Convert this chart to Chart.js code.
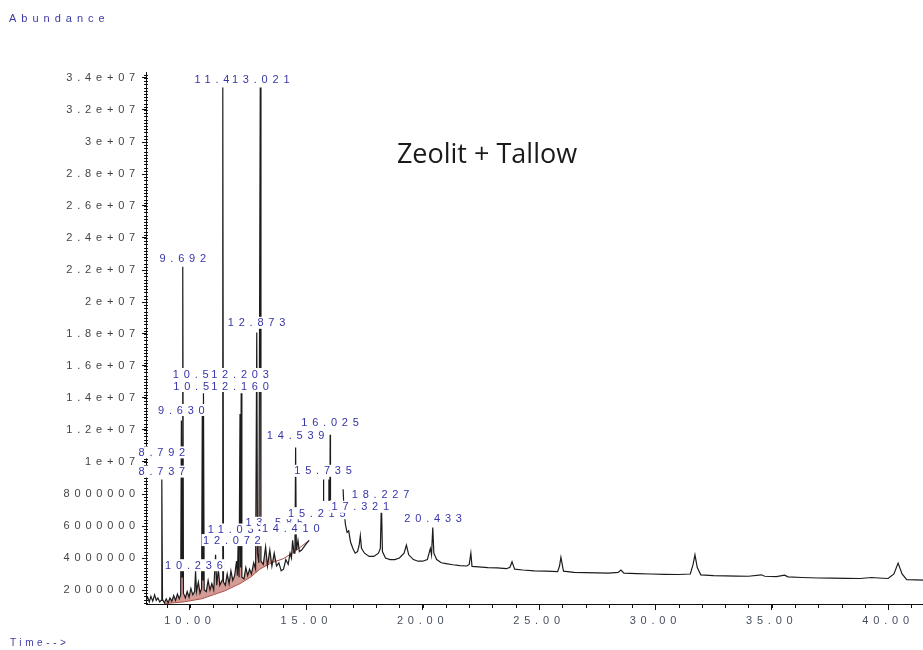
<!DOCTYPE html>
<html>
<head>
<meta charset="utf-8">
<script src="https://cdn.jsdelivr.net/npm/chart.js@4.4.1/dist/chart.umd.min.js"></script>
<style>
html,body{margin:0;padding:0;background:#fff;}
#wrap{width:923px;height:650px;position:relative;}
</style>
</head>
<body>
<div id="wrap"><canvas id="c"></canvas></div>
<script>
// ---- data (time in minutes, abundance in counts) ----
const traceTimes = [
 8.11,8.18,8.25,8.32,8.40,8.48,8.55,8.62,8.70,8.76,8.79,8.82,8.90,8.98,9.06,9.14,9.22,9.30,9.38,9.46,9.54,9.60,9.63,9.66,9.69,9.72,9.80,9.88,9.96,
 10.04,10.12,10.20,10.24,10.28,10.36,10.43,10.50,10.53,10.555,10.58,10.61,10.70,10.78,10.86,10.94,
 11.02,11.10,11.15,11.22,11.28,11.38,11.41,11.44,11.52,11.60,11.68,11.76,11.84,11.92,
 12.00,12.04,12.07,12.11,12.15,12.175,12.20,12.23,12.32,12.40,12.48,12.56,12.64,12.74,12.82,12.87,12.90,12.96,
 13.02,13.05,13.15,13.25,13.33,13.43,13.52,13.62,13.72,13.82,13.92,
 14.02,14.12,14.22,14.30,14.36,14.41,14.47,14.51,14.54,14.57,14.64,14.70,14.80,14.90,15.00,15.12,
 15.20,15.72,15.735,15.75,15.80,15.95,15.97,15.99,16.00,16.012,16.025,16.038,16.30,
 16.58,16.62,16.68,16.75,16.82,16.90,17.00,17.10,17.20,17.27,17.32,17.37,17.50,17.70,17.90,
 18.10,18.18,18.227,18.27,18.40,18.60,18.80,19.00,19.20,19.30,19.40,19.60,19.80,
 20.00,20.20,20.33,20.38,20.433,20.48,20.60,20.80,21.00,21.30,21.60,21.90,22.00,22.07,22.12,22.40,22.80,
 23.20,23.60,23.75,23.84,23.95,24.30,24.80,25.30,25.80,25.88,25.94,26.05,26.50,27.00,27.50,28.00,28.40,28.52,28.65,
 29.20,29.80,30.40,31.00,31.50,31.62,31.70,31.80,31.95,32.50,33.00,33.50,34.00,34.55,34.70,35.20,35.55,35.70,
 36.30,37.00,37.60,38.20,38.80,39.30,39.60,40.00,40.25,40.43,40.60,40.80,41.20,41.60
];
const traceValues = [
 1.35e6,1.55e6,1.25e6,1.6e6,1.3e6,1.7e6,1.35e6,1.5e6,1.25e6,1.35e6,8.9e6,1.4e6,1.2e6,1.45e6,1.2e6,1.5e6,1.3e6,1.65e6,1.35e6,1.75e6,1.45e6,1.7e6,12.6e6,2.8e6,22.2e6,1.8e6,1.5e6,1.9e6,1.55e6,
 2.1e6,1.7e6,1.9e6,3.2e6,1.9e6,2.5e6,1.8e6,2.1e6,13.4e6,2.6e6,14.3e6,2.0e6,1.9e6,2.6e6,2.0e6,2.4e6,
 2.0e6,4.2e6,2.3e6,3.3e6,2.3e6,2.6e6,33.4e6,2.5e6,2.3e6,3.0e6,2.4e6,3.2e6,2.6e6,2.9e6,
 3.8e6,2.9e6,4.9e6,2.8e6,13.0e6,3.4e6,14.3e6,2.8e6,2.7e6,3.4e6,2.9e6,3.3e6,3.0e6,3.7e6,3.3e6,18.1e6,4.3e6,3.7e6,
 33.4e6,3.8e6,3.6e6,4.7e6,3.5e6,4.5e6,3.5e6,4.3e6,3.5e6,3.7e6,3.2e6,
 3.3e6,3.9e6,3.6e6,4.3e6,4.0e6,5.1e6,4.3e6,4.5e6,10.9e6,4.5e6,5.1e6,4.4e6,4.5e6,4.7e6,4.9e6,5.1e6,
 null,7.6e6,8.9e6,7.6e6,null,7.6e6,8.9e6,7.6e6,null,7.6e6,11.7e6,7.6e6,null,
 8.3e6,7.0e6,6.1e6,5.6e6,5.7e6,5.0e6,4.6e6,4.3e6,4.4e6,4.8e6,5.4e6,4.6e6,4.3e6,4.1e6,4.1e6,
 4.3e6,4.6e6,7.5e6,4.4e6,4.0e6,3.9e6,3.9e6,4.0e6,4.3e6,4.8e6,4.2e6,3.9e6,3.8e6,
 3.8e6,3.9e6,4.6e6,4.2e6,5.9e6,4.3e6,3.9e6,3.7e6,3.65e6,3.58e6,3.52e6,3.5e6,3.6e6,4.3e6,3.48e6,3.45e6,3.4e6,
 3.38e6,3.33e6,3.42e6,3.77e6,3.3e6,3.25e6,3.2e6,3.18e6,3.15e6,3.5e6,4.05e6,3.18e6,3.1e6,3.08e6,3.07e6,3.05e6,3.1e6,3.25e6,3.05e6,
 3.02e6,3.0e6,2.98e6,2.97e6,3.0e6,3.6e6,4.2e6,3.4e6,2.95e6,2.9e6,2.88e6,2.87e6,2.86e6,2.95e6,2.86e6,2.84e6,2.93e6,2.82e6,
 2.78e6,2.75e6,2.74e6,2.73e6,2.72e6,2.78e6,2.75e6,2.72e6,3.0e6,3.68e6,3.0e6,2.65e6,2.63e6,2.62e6
];
// integration baseline (red)
const baseTimes  = [8.88, 9.70, 10.50, 11.00, 11.50, 12.15, 12.60, 13.00, 13.50, 14.00, 14.50, 15.12];
const baseValues = [1.15e6,1.25e6,1.45e6,1.7e6,1.95e6,2.4e6,2.8e6,3.3e6,3.7e6,3.95e6,4.4e6,5.1e6];

// axis ticks
const xTickValues = [10, 15, 20, 25, 30, 35, 40];
const xTickLabels = ['10.00','15.00','20.00','25.00','30.00','35.00','40.00'];
const yTickValues = [2e6,4e6,6e6,8e6,10e6,12e6,14e6,16e6,18e6,20e6,22e6,24e6,26e6,28e6,30e6,32e6,34e6];
const yTickLabels = ['2000000','4000000','6000000','8000000','1e+07','1.2e+07','1.4e+07','1.6e+07','1.8e+07','2e+07','2.2e+07','2.4e+07','2.6e+07','2.8e+07','3e+07','3.2e+07','3.4e+07'];

// peak labels: text, time, abundance level (drawing order matters: later ones overlay)
const peakLabelTexts  = ['11.413','13.021','9.692','12.873','10.531','12.160','10.508','12.203','9.630','16.025','14.539','8.737','8.792','15.735','11.034','12.072','13.585','14.410','15.215','18.227','17.321','20.433','10.236'];
const peakLabelTimes  = [11.41, 13.04, 9.69, 12.86, 10.52, 12.15, 10.50, 12.15, 9.63, 16.02, 14.54, 8.79, 8.79, 15.72, 11.98, 11.80, 13.62, 14.33, 15.45, 18.19, 17.32, 20.45, 10.17];
const peakLabelLevels = [33.9e6,33.9e6,22.75e6,18.7e6,14.75e6,14.75e6,15.5e6,15.5e6,13.25e6,12.45e6,11.65e6,9.4e6,10.6e6,9.45e6,5.78e6,5.12e6,6.2e6,5.85e6,6.8e6,7.95e6,7.2e6,6.45e6,3.55e6];

// ---- build chart ----
const trace = traceTimes.map((t,i)=>({x:t, y:traceValues[i]}));
const integ = trace.filter(p => p.y !== null && p.x >= baseTimes[0] && p.x <= baseTimes[baseTimes.length-1]);
const base = baseTimes.map((t,i)=>({x:t, y:baseValues[i]}));

const LS = '4.8px';
const AXIS_FONT = '"Liberation Sans", Arial, sans-serif';

const decor = {
  id:'decor',
  beforeDraw(chart){ chart.ctx.letterSpacing = LS; },
  afterDatasetsDraw(chart){
    const ctx = chart.ctx, xs = chart.scales.x, ys = chart.scales.y;
    const a = chart.chartArea;
    ctx.save();
    // minor ticks
    ctx.strokeStyle = '#111'; ctx.lineWidth = 1;
    ctx.beginPath();
    for (let k = 6; k <= 171; k++) {
      const py = Math.round(ys.getPixelForValue(k*2e5)) + 0.5;
      ctx.moveTo(a.left-2, py); ctx.lineTo(a.left+2, py);
    }
    for (let m = 9; m <= 41; m++) {
      const px = Math.round(xs.getPixelForValue(m)) + 0.5;
      ctx.moveTo(px, a.bottom); ctx.lineTo(px, a.bottom+4);
    }
    ctx.stroke();
    // peak labels
    ctx.font = '11px ' + AXIS_FONT;
    ctx.letterSpacing = LS;
    ctx.textBaseline = 'middle';
    ctx.textAlign = 'left';
    for (let i = 0; i < peakLabelTexts.length; i++) {
      const txt = peakLabelTexts[i];
      const px = xs.getPixelForValue(peakLabelTimes[i]);
      const py = ys.getPixelForValue(peakLabelLevels[i]);
      const w = ctx.measureText(txt).width - 4.8;
      ctx.fillStyle = '#fff';
      ctx.fillRect(px - w/2 - 1.5, py - 6, w + 3, 12);
      ctx.fillStyle = '#3535a8';
      ctx.fillText(txt, px - w/2, py + 0.5);
    }
    ctx.restore();
  },
  afterDraw(chart){
    const ctx = chart.ctx;
    ctx.save();
    ctx.textBaseline = 'middle'; ctx.textAlign = 'left';
    ctx.fillStyle = '#3b3ba6';
    ctx.letterSpacing = '5px';
    ctx.font = '11px ' + AXIS_FONT;
    ctx.fillText('Abundance', 9, 19);
    ctx.letterSpacing = '3.6px';
    ctx.font = '10px ' + AXIS_FONT;
    ctx.fillText('Time-->', 10, 643);
    ctx.letterSpacing = '0px';
    ctx.fillStyle = '#1a1a1a';
    ctx.font = '27px "Open Sans", Lato, sans-serif';
    ctx.textAlign = 'center';
    ctx.fillText('Zeolit + Tallow', 487, 155);
    ctx.restore();
  }
};

new Chart(document.getElementById('c'), {
  type:'line',
  data:{ datasets:[
    { data: trace, borderColor:'#1c1c1c', borderWidth:1.2, pointRadius:0, tension:0, spanGaps:false, fill:false },
    { data: integ, borderWidth:0, borderColor:'rgba(0,0,0,0)', pointRadius:0, tension:0,
      fill:{ target:2, above:'rgba(185,90,80,0.6)', below:'rgba(0,0,0,0)' } },
    { data: base, borderColor:'#a84a42', borderWidth:1, pointRadius:0, tension:0, fill:false }
  ]},
  options:{
    animation:false, responsive:true, maintainAspectRatio:false,
    layout:{ padding:{ top:72, left:0, right:0, bottom:0 } },
    plugins:{ legend:{display:false}, tooltip:{enabled:false}, title:{display:false} },
    scales:{
      x:{ type:'linear', min:8.11, max:41.5,
        afterBuildTicks(s){ s.ticks = xTickValues.map(v=>({value:v})); },
        afterFit(s){ s.height = 46; },
        ticks:{ autoSkip:false, maxRotation:0, padding:4, color:'#474d5e',
          font:{ family:AXIS_FONT, size:11 },
          callback(v){ const i = xTickValues.indexOf(v); return i>=0 ? xTickLabels[i] : ''; } },
        grid:{ drawOnChartArea:false, drawTicks:true, tickLength:6, tickColor:'#111' },
        border:{ display:true, color:'#111', width:1 }
      },
      y:{ type:'linear', min:1.125e6, max:3.4375e7,
        afterBuildTicks(s){ s.ticks = yTickValues.map(v=>({value:v})); },
        afterFit(s){ s.width = 146; },
        ticks:{ autoSkip:false, padding:2, color:'#444444',
          font:{ family:AXIS_FONT, size:11 },
          callback(v){ const i = yTickValues.indexOf(v); return i>=0 ? yTickLabels[i] : ''; } },
        grid:{ drawOnChartArea:false, drawTicks:true, tickLength:4, tickColor:'#111' },
        border:{ display:true, color:'#111', width:1 }
      }
    }
  },
  plugins:[decor]
});
</script>
</body>
</html>
